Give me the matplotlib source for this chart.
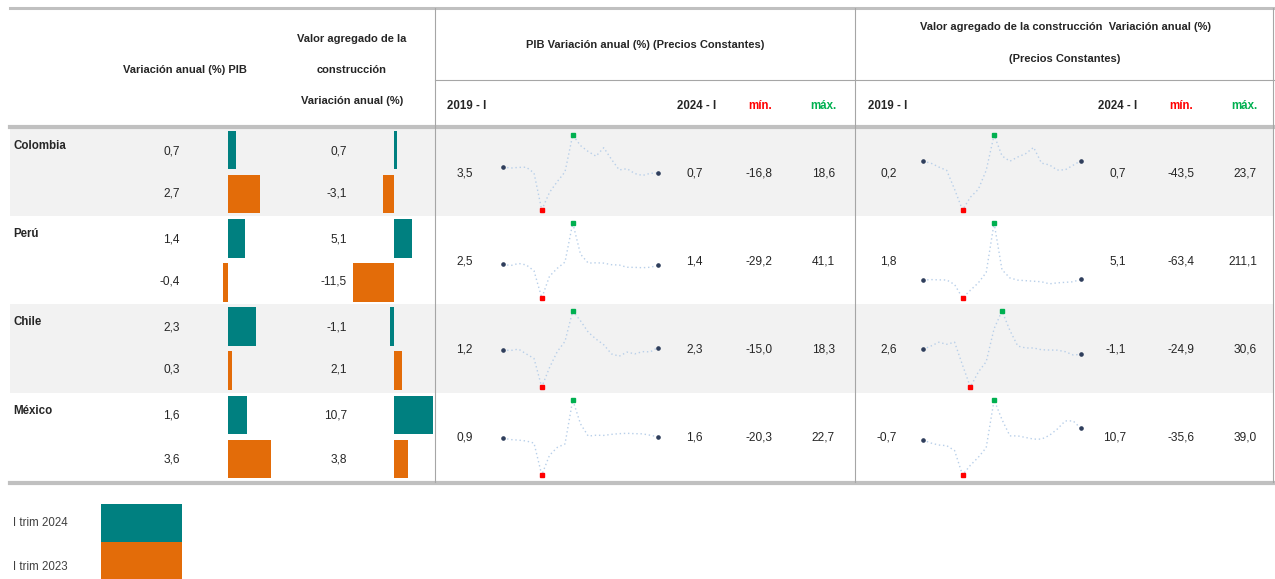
import matplotlib
matplotlib.use('Agg')
import numpy
import matplotlib.pyplot as plt
from matplotlib.patches import Rectangle

W, H = 1275, 579

countries = ['Colombia', 'Perú', 'Chile', 'México']
pib_2024 = [0.7, 1.4, 2.3, 1.6]
pib_2023 = [2.7, -0.4, 0.3, 3.6]
cons_2024 = [0.7, 5.1, -1.1, 10.7]
cons_2023 = [-3.1, -11.5, 2.1, 3.8]

quarters = [str(y) + ' - ' + q for y in range(2019, 2025) for q in ['I', 'II', 'III', 'IV']][:21]

# PIB variación anual (%) trimestral, 2019-I .. 2024-I
pib_col = [3.5, 3.0, 3.3, 3.4, 0.7, -16.8, -8.5, -3.4, 1.2, 18.6, 13.6, 10.8, 8.6, 12.6, 7.1, 2.1, 2.7, 0.4, -0.5, 0.5, 0.7]
pib_per = [2.5, 1.2, 3.2, 1.8, -3.7, -29.2, -8.8, -1.4, 4.5, 41.1, 11.9, 3.5, 3.8, 3.5, 2.0, 1.7, -0.4, -0.5, -0.8, -0.4, 1.4]
pib_chi = [1.2, 1.0, 1.6, -0.5, -2.5, -15.0, -6.5, 0.5, 5.0, 18.3, 14.0, 9.0, 6.0, 3.5, -0.5, -1.5, 0.3, -0.5, 0.5, 0.4, 2.3]
pib_mex = [0.9, 0.0, -0.3, -0.8, -2.0, -20.3, -9.0, -4.5, -2.5, 22.7, 9.0, 2.0, 2.5, 2.4, 3.0, 3.4, 3.6, 3.4, 3.3, 2.5, 1.6]
# valor agregado construcción variación anual (%)
cons_col = [0.2, -1.5, -5.0, -8.0, -25.0, -43.5, -32.0, -25.0, -8.0, 23.7, 5.0, 0.2, 4.0, 7.0, 12.6, -1.5, -3.1, -7.7, -7.5, -3.4, 0.7]
cons_per = [1.8, 4.0, 3.0, 2.5, -14.0, -63.4, -35.0, -8.0, 30.0, 211.1, 40.0, 10.0, 2.0, 0.0, -2.0, -4.0, -11.5, -8.0, -6.0, -4.0, 5.1]
cons_chi = [2.6, 5.0, 7.8, 6.3, 7.8, -8.9, -24.9, -14.0, -6.4, 17.7, 30.6, 16.4, 5.0, 3.6, 3.6, 2.3, 2.1, 2.0, 0.9, -1.5, -1.1]
cons_mex = [-0.7, -3.8, -5.8, -6.4, -11.3, -35.6, -25.9, -18.0, -8.4, 39.0, 19.5, 3.3, 3.3, 1.7, 0.1, 0.1, 3.8, 10.1, 18.2, 18.2, 10.7]

pib_series = [pib_col, pib_per, pib_chi, pib_mex]
cons_series = [cons_col, cons_per, cons_chi, cons_mex]

TEAL = '#008080'
ORANGE = '#e36c09'
BAND = '#f2f2f2'
RULE = '#c0c0c0'
plt.rcParams['font.family'] = ['Liberation Sans', 'DejaVu Sans']


def fmt(v):
    return ('%.1f' % v).replace('.', ',')


fig = plt.figure(figsize=(W / 100.0, H / 100.0), dpi=100)


def px_axes(x0, y0, x1, y1):
    return fig.add_axes([x0 / float(W), 1 - y1 / float(H), (x1 - x0) / float(W), (y1 - y0) / float(H)])


ax = px_axes(0, 0, W, H)
ax.set_xlim(0, W)
ax.set_ylim(H, 0)
ax.axis('off')

band_top = [128, 216, 304, 393]
band_bot = [216, 304, 393, 481]
for i in range(4):
    if i % 2 == 0:
        ax.add_patch(Rectangle((10, band_top[i]), 1263, band_bot[i] - band_top[i], color=BAND, lw=0, zorder=0))

# table rules
ax.plot([10, W], [8, 8], color=RULE, lw=2.2)
ax.plot([10, W], [127, 127], color=RULE, lw=3)
ax.plot([10, W], [483, 483], color=RULE, lw=3)
ax.plot([435, W], [80, 80], color='#a6a6a6', lw=0.8)
for xv in [435, 855, 1273]:
    ax.plot([xv, xv], [8, 482], color='#a6a6a6', lw=0.8)

# headers
hd = dict(fontsize=8, fontweight='bold', ha='center', va='center', color='#262626')
ax.text(185, 70, 'Variación anual (%) PIB', **hd)
ax.text(352, 39, 'Valor agregado de la', **hd)
ax.text(352, 70, 'construcción', **hd)
ax.text(352, 101, 'Variación anual (%)', **hd)
ax.text(645, 45, 'PIB Variación anual (%) (Precios Constantes)', **hd)
ax.text(1065, 27, 'Valor agregado de la construcción  Variación anual (%)', **hd)
ax.text(1065, 59, '(Precios Constantes)', **hd)
sub = dict(fontsize=8.3, fontweight='bold', ha='center', va='center')
for off in [0, 421]:
    ax.text(467 + off, 106, quarters[0], color='#262626', **sub)
    ax.text(697 + off, 106, quarters[-1], color='#262626', **sub)
    ax.text(760 + off, 106, 'mín.', color='#ff0000', **sub)
    ax.text(823 + off, 106, 'máx.', color='#00b050', **sub)

num = dict(fontsize=8.6, ha='right', va='center', color='#262626')
for i in range(4):
    ax.text(13, band_top[i] + 18, countries[i], fontsize=8.3, fontweight='bold', ha='left', va='center', color='#262626')
    y1 = band_top[i] + 23
    y2 = band_top[i] + 66
    ax.text(180, y1, fmt(pib_2024[i]), **num)
    ax.text(180, y2, fmt(pib_2023[i]), **num)
    ax.text(347, y1, fmt(cons_2024[i]), **num)
    ax.text(347, y2, fmt(cons_2023[i]), **num)

# data bars
rows = numpy.arange(8)
pib_vals = []
cons_vals = []
colors = []
for i in range(4):
    pib_vals += [pib_2024[i], pib_2023[i]]
    cons_vals += [cons_2024[i], cons_2023[i]]
    colors += [TEAL, ORANGE]

bx = px_axes(200, 128, 300, 481)
bx.barh(rows, pib_vals, height=0.87, color=colors)
bx.set_xlim(-28 / 12.0, 72 / 12.0)
bx.set_ylim(7.5, -0.5)
bx.axis('off')

cx = px_axes(340, 128, 435, 481)
cx.barh(rows, cons_vals, height=0.87, color=colors)
cx.set_xlim(-54 / 3.6, 41 / 3.6)
cx.set_ylim(7.5, -0.5)
cx.axis('off')


def sparkline(x0, x1, y0, y1, vals):
    a = px_axes(x0, y0, x1, y1)
    xs = numpy.arange(len(vals))
    a.plot(xs, vals, color='#b8cfe9', lw=1, ls=(0, (1, 2)))
    a.plot([xs[0], xs[-1]], [vals[0], vals[-1]], ls='none', marker='o', ms=2.3, color='#2f3e5c', clip_on=False)
    imin = int(numpy.argmin(vals))
    imax = int(numpy.argmax(vals))
    a.plot([imin], [vals[imin]], ls='none', marker='s', ms=2.2, color='#ff0000', clip_on=False)
    a.plot([imax], [vals[imax]], ls='none', marker='s', ms=2.2, color='#00b050', clip_on=False)
    a.set_xlim(0, len(vals) - 1)
    a.set_ylim(min(vals), max(vals))
    a.axis('off')


for i in range(4):
    t = band_top[i] + 7
    b = band_bot[i] - 6
    mid = (band_top[i] + band_bot[i]) / 2.0 + 1
    for series, xs, tx in [(pib_series[i], (503, 658), (473, 703, 773, 835)),
                           (cons_series[i], (923, 1081), (897, 1126, 1195, 1257))]:
        sparkline(xs[0], xs[1], t, b, series)
        ax.text(tx[0], mid, fmt(series[0]), **num)
        ax.text(tx[1], mid, fmt(series[-1]), **num)
        ax.text(tx[2], mid, fmt(min(series)), **num)
        ax.text(tx[3], mid, fmt(max(series)), **num)

# legend
ax.add_patch(Rectangle((101, 504), 81, 38, color=TEAL, lw=0))
ax.add_patch(Rectangle((101, 542), 81, 37, color=ORANGE, lw=0))
ax.text(13, 523, 'I trim 2024', fontsize=8.3, ha='left', va='center', color='#404040')
ax.text(13, 567, 'I trim 2023', fontsize=8.3, ha='left', va='center', color='#404040')

plt.savefig('out.png', dpi=100)
plt.close()
